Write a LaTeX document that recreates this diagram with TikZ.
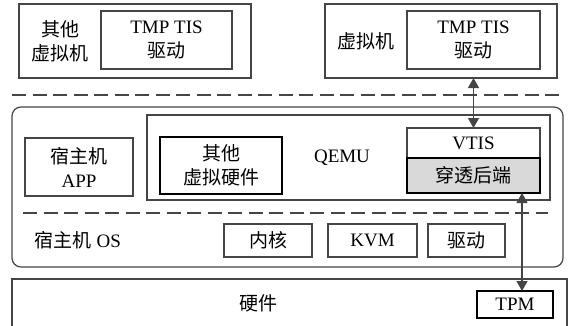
\documentclass[tikz,border=0pt]{standalone}
\usepackage{fontspec}
\setmainfont{Liberation Serif}
\newfontfamily\cjk{Noto Sans CJK SC}
\usetikzlibrary{arrows.meta}
\definecolor{linec}{HTML}{454545}
\definecolor{grayfill}{HTML}{D9D9D9}
\begin{document}
\begin{tikzpicture}[x=1pt,y=-1pt,
  box/.style={draw=linec, line width=1.2pt, inner sep=0pt, outer sep=0pt, align=center,
    font=\fontsize{19}{24}\selectfont},
  boldbox/.style={box, draw=black, line width=1.8pt},
  txt/.style={inner sep=0pt, align=center, font=\fontsize{19}{24}\selectfont},
  dline/.style={draw=linec, line width=2pt, dash pattern=on 14pt off 6.5pt},
  arr/.style={draw=linec, line width=1.3pt,
    {Triangle[length=10pt,width=11pt]}-{Triangle[length=10pt,width=11pt]}}
]
\useasboundingbox (0,0) rectangle (568,325);
\clip (0,0) rectangle (568,325);
% top virtual machines
\node[box, minimum width=232pt, minimum height=74pt] (vm1) at (135,41) {};
\node[box, minimum width=131pt, minimum height=58pt] (tis1) at (166.5,40) {TMP TIS\\{\cjk 驱动}};
\node[txt] (vm1t) at (60,41) {{\cjk 其他}\\{\cjk 虚拟机}};
\node[box, minimum width=232pt, minimum height=74pt] (vm2) at (441,41) {};
\node[box, minimum width=133pt, minimum height=58pt] (tis2) at (473.5,40) {TMP TIS\\{\cjk 驱动}};
\node[txt] (vm2t) at (366,41) {{\cjk 虚拟机}};
% dashed separator 1
\coordinate (d1a) at (12,95);
\coordinate (d1b) at (562,95);
\draw[dline] (d1a) -- (d1b);
% host
\node[box, rounded corners=9pt, minimum width=551pt, minimum height=160pt] (host) at (287.5,187) {};
\node[box, minimum width=108pt, minimum height=58pt] (app) at (79,167) {{\cjk 宿主机}\\APP};
\node[box, minimum width=403pt, minimum height=85pt] (qemu) at (348.5,157.5) {};
\node[txt] (qemut) at (342,158) {QEMU};
\node[boldbox, minimum width=122pt, minimum height=57pt] (ohw) at (221,165.5) {{\cjk 其他}\\{\cjk 虚拟硬件}};
\node[box, minimum width=133pt, minimum height=30pt] (vtis) at (473.5,143) {VTIS};
\node[box, draw=black, line width=1.5pt, fill=grayfill, minimum width=133pt, minimum height=35pt] (pass) at (473.5,175.5) {{\cjk 穿透后端}};
% dashed separator 2
\coordinate (d2a) at (23,213);
\coordinate (d2b) at (548,213);
\draw[dline] (d2a) -- (d2b);
\node[txt] (hostos) at (78,240) {{\cjk 宿主机} OS};
\node[box, minimum width=88pt, minimum height=33pt] (kern) at (268,240.5) {{\cjk 内核}};
\node[box, minimum width=89pt, minimum height=33pt] (kvm) at (372.5,240.5) {KVM};
\node[box, minimum width=77pt, minimum height=33pt] (drv) at (466.5,240.5) {{\cjk 驱动}};
% hardware
\node[box, minimum width=555pt, minimum height=56pt] (hw) at (289.5,307) {};
\node[txt] (hwt) at (258,303) {{\cjk 硬件}};
\node[boldbox, minimum width=76pt, minimum height=27pt] (tpm) at (515,304.5) {TPM};
% arrows
\draw[arr] (vtis.north |- vm2.south) -- (vtis.north);
\coordinate (a2) at (522,0);
\draw[arr] (a2 |- pass.south) -- (a2 |- tpm.north);
\end{tikzpicture}
\end{document}
